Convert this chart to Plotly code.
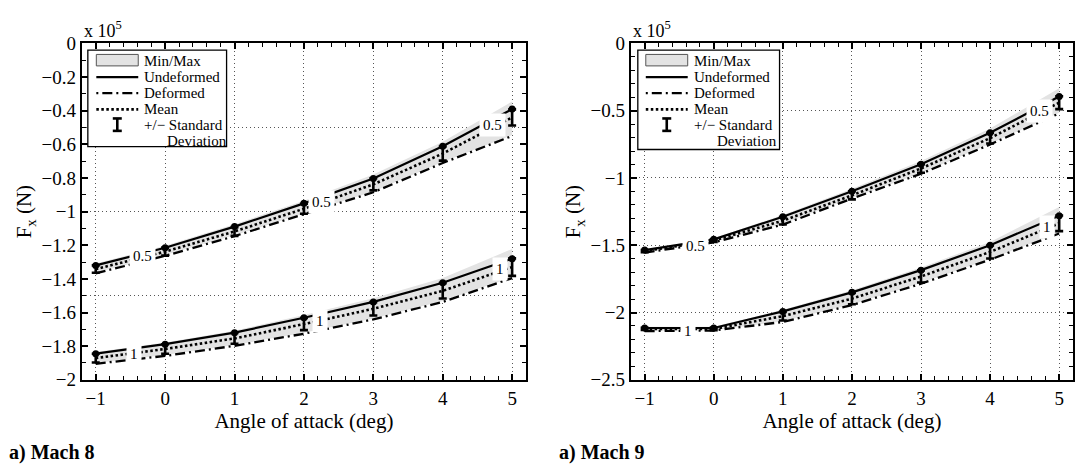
import plotly.graph_objects as go

# ---------------- data (F_x in units of 1e5 N) ----------------
aoa = [-1, 0, 1, 2, 3, 4, 5]

# Mach 8, curve "0.5"
m8_05_undef = [-1.320, -1.215, -1.089, -0.951, -0.803, -0.611, -0.390]
m8_05_def   = [-1.367, -1.263, -1.146, -1.017, -0.885, -0.711, -0.550]
m8_05_mean  = [-1.342, -1.238, -1.118, -0.983, -0.838, -0.655, -0.440]
m8_05_std   = [0.022, 0.024, 0.026, 0.030, 0.036, 0.042, 0.048]
m8_05_max   = [-1.308, -1.203, -1.075, -0.935, -0.780, -0.585, -0.345]
m8_05_min   = [-1.362, -1.258, -1.141, -1.012, -0.880, -0.705, -0.545]
# Mach 8, curve "1"
m8_1_undef = [-1.845, -1.788, -1.720, -1.631, -1.537, -1.423, -1.280]
m8_1_def   = [-1.905, -1.858, -1.798, -1.726, -1.641, -1.537, -1.395]
m8_1_mean  = [-1.871, -1.817, -1.754, -1.669, -1.578, -1.471, -1.330]
m8_1_std   = [0.026, 0.028, 0.032, 0.036, 0.040, 0.046, 0.052]
m8_1_max   = [-1.835, -1.778, -1.708, -1.615, -1.515, -1.395, -1.222]
m8_1_min   = [-1.900, -1.853, -1.793, -1.721, -1.636, -1.532, -1.390]
# Mach 9, curve "0.5"
m9_05_undef = [-1.536, -1.456, -1.288, -1.099, -0.898, -0.664, -0.395]
m9_05_def   = [-1.555, -1.479, -1.347, -1.153, -0.969, -0.751, -0.520]
m9_05_mean  = [-1.543, -1.465, -1.318, -1.129, -0.929, -0.704, -0.440]
m9_05_std   = [0.008, 0.010, 0.028, 0.030, 0.032, 0.040, 0.048]
m9_05_max   = [-1.528, -1.448, -1.275, -1.080, -0.873, -0.632, -0.333]
m9_05_min   = [-1.552, -1.476, -1.342, -1.148, -0.964, -0.746, -0.515]
# Mach 9, curve "1"
m9_1_undef = [-2.115, -2.115, -1.992, -1.850, -1.685, -1.500, -1.280]
m9_1_def   = [-2.138, -2.134, -2.070, -1.945, -1.786, -1.607, -1.413]
m9_1_mean  = [-2.122, -2.122, -2.027, -1.897, -1.732, -1.550, -1.337]
m9_1_std   = [0.008, 0.010, 0.032, 0.042, 0.045, 0.048, 0.058]
m9_1_max   = [-2.105, -2.105, -1.980, -1.835, -1.665, -1.475, -1.215]
m9_1_min   = [-2.135, -2.131, -2.065, -1.940, -1.781, -1.602, -1.408]

# curve labels (text, angle of attack, F_x) placed on the curves
m8_labels = [("0.5", -0.33, -1.265), ("0.5", 2.26, -0.945), ("0.5", 4.72, -0.487),
             ("1", -0.45, -1.848), ("1", 2.23, -1.650), ("1", 4.83, -1.340)]
m9_labels = [("0.5", -0.26, -1.502), ("1", -0.37, -2.140),
             ("0.5", 4.72, -0.500), ("1", 4.83, -1.362)]

legend_items = ["Min/Max", "Undeformed", "Deformed", "Mean", "+/\u2212 Standard", "Deviation"]

# ---------------- styling ----------------
FONT = "Liberation Serif"
BAND = "#e3e3e3"
W, H = 1075, 472
DASHDOT = "10px,4px,2px,4px"
DOTTED = "2.5px,2.5px"

fig = go.Figure()


def add_group(xa, ya, undef, defo, mean, std, vmax, vmin):
    common = dict(xaxis=xa, yaxis=ya, showlegend=False, hoverinfo="skip")
    fig.add_trace(go.Scatter(x=aoa, y=vmax, mode="lines", line=dict(width=0, color=BAND), **common))
    fig.add_trace(go.Scatter(x=aoa, y=vmin, mode="lines", line=dict(width=0, color=BAND),
                             fill="tonexty", fillcolor=BAND, **common))
    fig.add_trace(go.Scatter(x=aoa, y=defo, mode="lines",
                             line=dict(color="black", width=2.3, dash=DASHDOT), **common))
    fig.add_trace(go.Scatter(x=aoa, y=mean, mode="lines",
                             line=dict(color="black", width=2.6, dash=DOTTED),
                             error_y=dict(type="data", array=std, color="black", thickness=2.6, width=4),
                             **common))
    fig.add_trace(go.Scatter(x=aoa, y=undef, mode="lines+markers",
                             line=dict(color="black", width=2.2),
                             marker=dict(size=7, color="black"), **common))


add_group("x", "y", m8_05_undef, m8_05_def, m8_05_mean, m8_05_std, m8_05_max, m8_05_min)
add_group("x", "y", m8_1_undef, m8_1_def, m8_1_mean, m8_1_std, m8_1_max, m8_1_min)
add_group("x2", "y2", m9_05_undef, m9_05_def, m9_05_mean, m9_05_std, m9_05_max, m9_05_min)
add_group("x2", "y2", m9_1_undef, m9_1_def, m9_1_mean, m9_1_std, m9_1_max, m9_1_min)
# empty trace to activate the grid-only overlay axis of the left panel
fig.add_trace(go.Scatter(x=[None], y=[None], xaxis="x", yaxis="y3", showlegend=False, hoverinfo="skip"))

# panel geometry in pixels
LEFT = dict(x0=82, x1=527, y0=35, y1=387)
RIGHT = dict(x0=632, x1=1075, y0=35, y1=387)

tickfont = dict(family=FONT, size=19, color="black")
titlefont = dict(family=FONT, size=21, color="black")
grid = dict(gridcolor="#555555", gridwidth=1, griddash="1px,3px")

def xax(p, anchor):
    return dict(domain=[p["x0"] / W, p["x1"] / W], anchor=anchor, range=[-1.2, 5.2],
                tick0=0, dtick=1, ticks="inside", ticklen=6, tickwidth=1.5, tickcolor="black",
                showline=True, linewidth=2, linecolor="black", mirror="ticks",
                showgrid=True, zeroline=False, tickfont=tickfont,
                minor=dict(dtick=0.2, ticks="inside", ticklen=4, tickwidth=1.2, tickcolor="black", showgrid=False),
                title=dict(text="Angle of attack (deg)", font=titlefont, standoff=4), **grid)

def yax(p, anchor, rng, dtick, showgrid):
    return dict(domain=[1 - p["y1"] / H, 1 - p["y0"] / H], anchor=anchor, range=rng,
                tick0=0, dtick=dtick, ticks="inside", ticklen=6, tickwidth=1.5, tickcolor="black",
                showline=True, linewidth=2, linecolor="black", mirror="ticks",
                showgrid=showgrid, zeroline=False, tickfont=tickfont,
                minor=dict(dtick=0.1, ticks="inside", ticklen=4, tickwidth=1.2, tickcolor="black", showgrid=False),
                title=dict(text="F<sub>x</sub> (N)", font=titlefont, standoff=4), **grid)

layout = dict(
    width=W, height=H, margin=dict(l=0, r=0, t=0, b=0),
    paper_bgcolor="white", plot_bgcolor="white", showlegend=False,
    font=dict(family=FONT, color="black"),
    xaxis=xax(LEFT, "y"),
    yaxis=yax(LEFT, "x", [-2, 0], 0.2, False),
    xaxis2=xax(RIGHT, "y2"),
    yaxis2=yax(RIGHT, "x2", [-2.5, 0], 0.5, True),
    yaxis3=dict(overlaying="y", anchor="x", range=[-2, 0], tick0=0, dtick=0.5,
                showticklabels=False, ticks="", showline=False, zeroline=False,
                showgrid=True, **grid),
)
fig.update_layout(**layout)

annotations = []
shapes = []

for txt, xv, yv in m8_labels:
    annotations.append(dict(x=xv, y=yv, xref="x", yref="y", text=txt, showarrow=False,
                            bgcolor="white", borderpad=3, font=dict(family=FONT, size=15, color="black")))
for txt, xv, yv in m9_labels:
    annotations.append(dict(x=xv, y=yv, xref="x2", yref="y2", text=txt, showarrow=False,
                            bgcolor="white", borderpad=3, font=dict(family=FONT, size=15, color="black")))

# multiplier texts
for p in (LEFT, RIGHT):
    annotations.append(dict(x=p["x0"] / W, y=1 - 20 / H, xref="paper", yref="paper",
                            xanchor="left", yanchor="middle", showarrow=False,
                            text="x 10<sup>5</sup>", font=dict(family=FONT, size=18, color="black")))
# panel captions
caps = [("a) Mach 8", 7), ("a) Mach 9", 558)]
for cap, pxl in caps:
    annotations.append(dict(x=pxl / W, y=1 - 463 / H, xref="paper", yref="paper",
                            xanchor="left", yanchor="middle", showarrow=False,
                            text="<b>%s</b>" % cap, font=dict(family=FONT, size=20, color="black")))

# manual legend boxes (pixel positions converted to paper coords)
def px(xp):
    return xp / W

def py(yp):
    return 1 - yp / H

for (bx0, bx1, by0, by1, sw0, sw1, tx, tx2) in ((88, 227, 42, 143, 96.5, 138.5, 142.5, 165),
                                                 (639, 781, 42, 146, 647, 689, 693, 716)):
    shapes.append(dict(type="rect", xref="paper", yref="paper", x0=px(bx0), x1=px(bx1),
                       y0=py(by1), y1=py(by0), line=dict(color="black", width=1.3), fillcolor="white",
                       layer="above"))
    shapes.append(dict(type="rect", xref="paper", yref="paper", x0=px(sw0), x1=px(sw1),
                       y0=py(58.5), y1=py(46.5), line=dict(color="#555555", width=1), fillcolor=BAND,
                       layer="above"))
    shapes.append(dict(type="line", xref="paper", yref="paper", x0=px(sw0), x1=px(sw1),
                       y0=py(70.3), y1=py(70.3), line=dict(color="black", width=2.3), layer="above"))
    shapes.append(dict(type="line", xref="paper", yref="paper", x0=px(sw0), x1=px(sw1),
                       y0=py(87), y1=py(87), line=dict(color="black", width=2.3, dash="2px,4px,10px,4px"),
                       layer="above"))
    shapes.append(dict(type="line", xref="paper", yref="paper", x0=px(sw0), x1=px(sw1),
                       y0=py(104), y1=py(104), line=dict(color="black", width=2.6, dash=DOTTED),
                       layer="above"))
    cx = (sw0 + sw1) / 2
    shapes.append(dict(type="line", xref="paper", yref="paper", x0=px(cx), x1=px(cx),
                       y0=py(113.5), y1=py(126.5), line=dict(color="black", width=2.6), layer="above"))
    for yy in (113.5, 126.5):
        shapes.append(dict(type="line", xref="paper", yref="paper", x0=px(cx - 4.5), x1=px(cx + 4.5),
                           y0=py(yy), y1=py(yy), line=dict(color="black", width=2.6), layer="above"))
    ys = [53, 70, 87, 103.5, 120, 137]
    for i, (item, yy) in enumerate(zip(legend_items, ys)):
        annotations.append(dict(x=px(tx2 if i == 5 else tx), y=py(yy), xref="paper", yref="paper",
                                xanchor="left", yanchor="middle", showarrow=False, text=item,
                                font=dict(family=FONT, size=15, color="black")))

fig.update_layout(annotations=annotations, shapes=shapes)
fig.write_html("out.html")
